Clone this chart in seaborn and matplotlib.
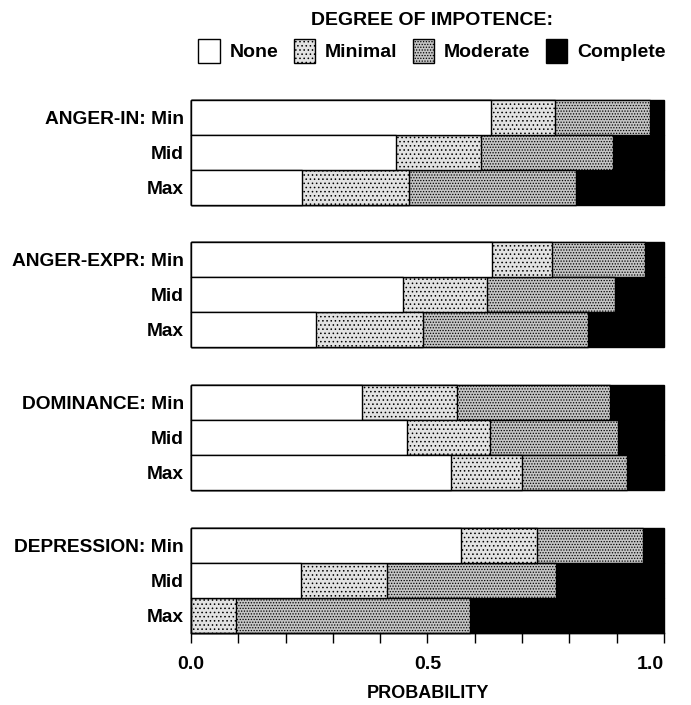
import numpy as np
import pandas as pd
import matplotlib
matplotlib.use("Agg")
import matplotlib.pyplot as plt
from matplotlib.patches import Patch
import seaborn as sns

sns.set_theme(style="white")
plt.rcParams['font.family'] = ['Liberation Sans', 'DejaVu Sans']
plt.rcParams['text.color'] = 'black'
plt.rcParams['axes.labelcolor'] = 'black'
plt.rcParams['xtick.color'] = 'black'
plt.rcParams['ytick.color'] = 'black'
plt.rcParams['hatch.linewidth'] = 0.6

# ---- data (probabilities) ----
panels = ["ANGER-IN", "ANGER-EXPR", "DOMINANCE", "DEPRESSION"]
levels = ["Min", "Mid", "Max"]
degrees = ["None", "Minimal", "Moderate", "Complete"]

anger_in = [[0.634, 0.135, 0.201, 0.030],
            [0.433, 0.181, 0.279, 0.107],
            [0.234, 0.227, 0.354, 0.185]]
anger_expr = [[0.637, 0.126, 0.196, 0.041],
              [0.448, 0.178, 0.270, 0.104],
              [0.264, 0.226, 0.350, 0.160]]
dominance = [[0.362, 0.201, 0.322, 0.115],
             [0.456, 0.176, 0.271, 0.097],
             [0.550, 0.149, 0.223, 0.078]]
depression = [[0.570, 0.162, 0.224, 0.044],
              [0.232, 0.183, 0.356, 0.229],
              [0.000, 0.096, 0.493, 0.411]]
panel_data = [anger_in, anger_expr, dominance, depression]

colors = {"None": "#ffffff", "Minimal": "#e2e2e2",
          "Moderate": "#c4c4c4", "Complete": "#000000"}
hatches = {"None": None, "Minimal": "....", "Moderate": "......", "Complete": None}

# ---- figure ----
W, H = 691, 705
fig = plt.figure(figsize=(W / 100, H / 100), dpi=100)

x0, x1 = 191, 664
panel_tops = [100, 242, 385, 528]
panel_h = 105

for i, (name, vals) in enumerate(zip(panels, panel_data)):
    top = panel_tops[i]
    ax = fig.add_axes([x0 / W, 1 - (top + panel_h) / H, (x1 - x0) / W, panel_h / H])
    arr = np.array(vals)
    cum = np.cumsum(arr, axis=1)
    # draw cumulative bars from largest to smallest so they stack visually
    for j in range(len(degrees) - 1, -1, -1):
        df = pd.DataFrame({"level": levels, "value": cum[:, j]})
        sns.barplot(data=df, x="value", y="level", order=levels, orient="h",
                    color=colors[degrees[j]], saturation=1, width=1.0,
                    edgecolor="black", linewidth=1.0, hatch=hatches[degrees[j]],
                    ax=ax)
    for p in ax.patches:
        p.set_clip_on(False)
    ax.set_xlim(0, 1)
    ax.set_ylim(2.5, -0.5)
    ax.set_ylabel("")
    ax.set_xlabel("")
    ax.set_yticks(range(3))
    ax.set_yticklabels([f"{name}: Min", "Mid", "Max"], fontsize=13.8, fontweight="bold")
    ax.tick_params(axis="y", length=0, pad=5)
    for s in ["top", "right", "left"]:
        ax.spines[s].set_visible(False)
    if i < 3:
        ax.spines["bottom"].set_visible(False)
        ax.set_xticks([])
    else:
        ax.spines["bottom"].set_visible(True)
        ax.spines["bottom"].set_color("black")
        ax.spines["bottom"].set_linewidth(1.0)
        ax.set_xticks([0, 0.5, 1.0])
        ax.set_xticklabels(["0.0", "0.5", "1.0"], fontsize=14, fontweight="bold")
        ax.get_xticklabels()[-1].set_horizontalalignment("right")
        ax.set_xticks(np.arange(0, 1.01, 0.1), minor=True)
        ax.tick_params(axis="x", which="both", direction="out", length=7.5,
                       width=1, color="black", bottom=True, pad=9)
        ax.set_xlabel("PROBABILITY", fontsize=13, fontweight="bold", labelpad=9)

handles = [Patch(facecolor=colors[d], edgecolor="black", linewidth=1.0, hatch=hatches[d])
           for d in degrees]
fig.legend(handles, degrees, loc="upper center", bbox_to_anchor=(432 / W, 1 - 4 / H),
           ncol=4, frameon=False, title="DEGREE OF IMPOTENCE:",
           title_fontproperties={"weight": "bold", "size": 14},
           prop={"weight": "bold", "size": 14},
           handlelength=1.1, handleheight=1.6, handletextpad=0.5,
           columnspacing=0.8, borderaxespad=0.0)

fig.savefig("out.png", dpi=100, facecolor="white")
